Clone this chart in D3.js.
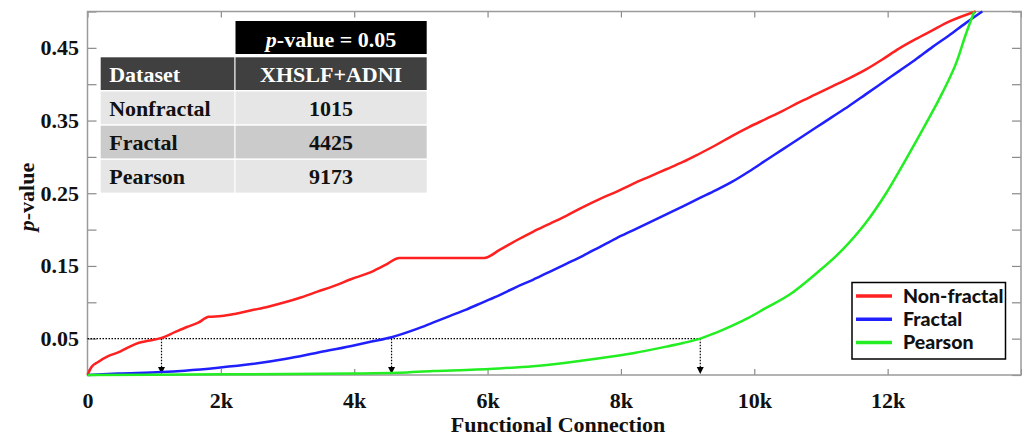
<!DOCTYPE html>
<html>
<head>
<meta charset="utf-8">
<script src="https://cdn.jsdelivr.net/npm/d3@7"></script>
<style>
  body { margin: 0; background: #fff; }
  svg { display: block; }
  .serif { font-family: "Liberation Serif", "Times New Roman", serif; font-weight: bold; }
</style>
</head>
<body>
<div id="chart"></div>
<script>
// curves: x = functional connection index, y = p-value
var nonFractalX = [0, 60, 160, 310, 460, 610, 760, 910, 1110, 1310, 1490, 1660, 1820, 2010, 2210, 2460, 2710, 2960, 3210, 3460, 3710, 3960, 4210, 4460, 4680, 5950, 6180, 6430, 6680, 6930, 7180, 7430, 7680, 7930, 8180, 8430, 8680, 8930, 9170, 9420, 9670, 9920, 10170, 10420, 10670, 10920, 11170, 11420, 11670, 11920, 12170, 12420, 12670, 12920, 13320];
var nonFractalY = [0, 0.011, 0.018, 0.026, 0.031, 0.038, 0.044, 0.047, 0.051, 0.059, 0.066, 0.072, 0.080, 0.081, 0.084, 0.089, 0.094, 0.100, 0.107, 0.115, 0.123, 0.132, 0.140, 0.151, 0.161, 0.161, 0.172, 0.185, 0.197, 0.208, 0.219, 0.231, 0.242, 0.252, 0.263, 0.273, 0.283, 0.293, 0.304, 0.316, 0.329, 0.341, 0.352, 0.363, 0.375, 0.386, 0.397, 0.408, 0.420, 0.434, 0.449, 0.462, 0.474, 0.486, 0.500];

var fractalX = [0, 460, 1110, 1460, 1960, 2460, 2960, 3460, 3960, 4260, 4560, 4930, 5180, 5430, 5680, 5930, 6180, 6430, 6680, 6930, 7180, 7430, 7680, 7930, 8180, 8430, 8680, 8930, 9170, 9420, 9670, 9920, 10170, 10420, 10670, 10920, 11170, 11420, 11670, 11920, 12170, 12420, 12670, 12920, 13170, 13420];
var fractalY = [0, 0.002, 0.004, 0.006, 0.010, 0.015, 0.022, 0.031, 0.040, 0.046, 0.052, 0.063, 0.072, 0.081, 0.090, 0.100, 0.110, 0.121, 0.131, 0.142, 0.153, 0.164, 0.176, 0.188, 0.199, 0.210, 0.221, 0.232, 0.243, 0.254, 0.266, 0.280, 0.295, 0.310, 0.325, 0.340, 0.355, 0.370, 0.386, 0.402, 0.418, 0.434, 0.451, 0.467, 0.484, 0.500];

var pearsonX = [0, 2000, 4000, 4680, 5180, 5680, 6180, 6680, 7180, 7680, 8180, 8680, 8930, 9190, 9420, 9670, 9920, 10170, 10520, 10920, 11320, 11670, 11970, 12270, 12570, 12820, 13040, 13170, 13300];
var pearsonY = [0, 0.001, 0.002, 0.003, 0.0055, 0.007, 0.009, 0.012, 0.017, 0.023, 0.030, 0.039, 0.044, 0.050, 0.058, 0.068, 0.079, 0.092, 0.110, 0.139, 0.172, 0.209, 0.249, 0.296, 0.345, 0.388, 0.432, 0.468, 0.500];

var seriesNames = ["Non-fractal", "Fractal", "Pearson"];
var seriesColors = ["#ff2020", "#2020ff", "#22ee22"];

// where each curve crosses p = 0.05 (arrows)
var cutoffP = 0.05;
var cutoffX = [1110, 4560, 9190];

// inset table
var tableHead = "p-value = 0.05";
var tableCols = ["Dataset", "XHSLF+ADNI"];
var tableRows = ["Nonfractal", "Fractal", "Pearson"];
var tableValues = [1015, 4425, 9173];

var xTicks = [0, 2000, 4000, 6000, 8000, 10000, 12000, 14000];
var xTickLabels = ["0", "2k", "4k", "6k", "8k", "10k", "12k", ""];
var yTicks = [0, 0.05, 0.1, 0.15, 0.2, 0.25, 0.3, 0.35, 0.4, 0.45, 0.5];
var yTickLabels = ["", "0.05", "", "0.15", "", "0.25", "", "0.35", "", "0.45", ""];

var W = 1022, H = 436;
var margin = {top: 11.5, left: 87.5, right: 1, bottom: 61};
var w = W - margin.left - margin.right,
    h = H - margin.top - margin.bottom;

var svg = d3.select("#chart").append("svg")
  .attr("width", W)
  .attr("height", H);

var g = svg.append("g")
  .attr("transform", "translate(" + margin.left + "," + margin.top + ")");

var x = d3.scaleLinear().domain([0, 14000]).range([0, w]);
var y = d3.scaleLinear().domain([0, 0.5]).range([h, 0]);

// axes, ticks pointing inward
var tickCol = "#8a8a8a";
var xAxis = d3.axisBottom(x).tickValues(xTicks)
  .tickFormat(function(d, i){ return xTickLabels[i]; })
  .tickSizeInner(-6).tickSizeOuter(0).tickPadding(17.5);
var xTop = d3.axisTop(x).tickValues(xTicks).tickFormat("")
  .tickSizeInner(-6).tickSizeOuter(0);
var yAxis = d3.axisLeft(y).tickValues(yTicks)
  .tickFormat(function(d, i){ return yTickLabels[i]; })
  .tickSizeInner(-9).tickSizeOuter(0).tickPadding(8.5);
var yRight = d3.axisRight(y).tickValues(yTicks).tickFormat("")
  .tickSizeInner(-9).tickSizeOuter(0);

function styleAxis(sel){
  sel.select(".domain").remove();
  sel.selectAll(".tick line").attr("stroke", tickCol).attr("stroke-width", 1.2);
  sel.selectAll(".tick text")
    .attr("class", "serif")
    .attr("fill", "#111")
    .style("font-size", "22px");
}

g.append("g").attr("transform", "translate(0," + h + ")").call(xAxis).call(styleAxis);
g.append("g").call(xTop).call(styleAxis);
g.append("g").call(yAxis).call(styleAxis);
g.append("g").attr("transform", "translate(" + w + ",0)").call(yRight).call(styleAxis);

// frame
g.append("rect")
  .attr("width", w).attr("height", h)
  .attr("fill", "none")
  .attr("stroke", "#9a9a9a")
  .attr("stroke-width", 1.5);

// dotted cutoff line and arrows
g.append("line")
  .attr("x1", x(0)).attr("x2", x(d3.max(cutoffX)))
  .attr("y1", y(cutoffP)).attr("y2", y(cutoffP))
  .attr("stroke", "#000").attr("stroke-width", 1.2)
  .attr("stroke-dasharray", "1.5,1.5");

var arrows = g.selectAll(".arrow").data(cutoffX).enter().append("g").attr("class", "arrow");
arrows.append("line")
  .attr("x1", function(d){ return x(d); }).attr("x2", function(d){ return x(d); })
  .attr("y1", y(cutoffP)).attr("y2", y(0) - 6)
  .attr("stroke", "#000").attr("stroke-width", 1.2)
  .attr("stroke-dasharray", "1.5,1.5");
arrows.append("path")
  .attr("d", function(d){
    var cx = x(d), by = y(0) - 1;
    return "M" + (cx - 3.5) + "," + (by - 7) + "L" + (cx + 3.5) + "," + (by - 7) + "L" + cx + "," + by + "Z";
  })
  .attr("fill", "#000");

// curves
var curves = [
  d3.zip(nonFractalX, nonFractalY),
  d3.zip(fractalX, fractalY),
  d3.zip(pearsonX, pearsonY)
];
var line = d3.line()
  .curve(d3.curveMonotoneX)
  .x(function(d){ return x(d[0]); })
  .y(function(d){ return y(d[1]); });

g.selectAll(".curve").data(curves).enter().append("path")
  .attr("class", "curve")
  .attr("d", line)
  .attr("fill", "none")
  .attr("stroke", function(d, i){ return seriesColors[i]; })
  .attr("stroke-width", 2.5)
  .attr("stroke-linejoin", "round");

// legend
var lg = svg.append("g").attr("transform", "translate(852,282.5)");
lg.append("rect")
  .attr("width", 153.5).attr("height", 76.5)
  .attr("fill", "#fff").attr("stroke", "#000").attr("stroke-width", 1.5);
var items = lg.selectAll(".item").data(seriesNames).enter().append("g")
  .attr("transform", function(d, i){ return "translate(0," + (13.5 + i * 23.3) + ")"; });
items.append("line")
  .attr("x1", 4).attr("x2", 40)
  .attr("stroke", function(d, i){ return seriesColors[i]; })
  .attr("stroke-width", 3.5);
items.append("text")
  .attr("x", 51).attr("y", 6.5)
  .style("font-family", "Lato, 'Open Sans', sans-serif")
  .style("font-weight", "900")
  .style("font-size", "19.5px")
  .attr("fill", "#111")
  .text(function(d){ return d; });

// axis titles
svg.append("text")
  .attr("class", "serif")
  .attr("x", 558).attr("y", 431.5)
  .attr("text-anchor", "middle")
  .style("font-size", "22px")
  .attr("fill", "#111")
  .text("Functional Connection");

var yt = svg.append("text")
  .attr("class", "serif")
  .attr("transform", "translate(34,197) rotate(-90)")
  .attr("text-anchor", "middle")
  .style("font-size", "22px")
  .attr("fill", "#111");
yt.append("tspan").style("font-style", "italic").text("p");
yt.append("tspan").text("-value");

// inset table
var tb = svg.append("g");
var col1 = 100.7, col2 = 235.5, tRight = 426.7;
var rowTop = 57.3, rowStep = 34.2, rowH = 32.7;

tb.append("rect")
  .attr("x", col2).attr("y", 21).attr("width", tRight - col2).attr("height", 33)
  .attr("fill", "#000");
var ht = tb.append("text")
  .attr("class", "serif")
  .attr("x", (col2 + tRight) / 2).attr("y", 46.5)
  .attr("text-anchor", "middle")
  .style("font-size", "22px")
  .attr("fill", "#fff");
ht.append("tspan").style("font-style", "italic").text(tableHead.slice(0, 1));
ht.append("tspan").text(tableHead.slice(1));

var rowData = [tableCols].concat(tableRows.map(function(r, i){ return [r, String(tableValues[i])]; }));
var rowFill = ["#404040", "#e6e6e6", "#cbcbcb", "#e6e6e6"];
var rows = tb.selectAll(".trow").data(rowData).enter().append("g")
  .attr("transform", function(d, i){ return "translate(0," + (rowTop + i * rowStep) + ")"; });
rows.append("rect")
  .attr("x", col1).attr("width", col2 - col1 - 1.2).attr("height", rowH)
  .attr("fill", function(d, i){ return rowFill[i]; });
rows.append("rect")
  .attr("x", col2).attr("width", tRight - col2).attr("height", rowH)
  .attr("fill", function(d, i){ return rowFill[i]; });
rows.append("text")
  .attr("class", "serif")
  .attr("x", col1 + 8.5).attr("y", rowH / 2 + 8)
  .style("font-size", "22px")
  .attr("fill", function(d, i){ return i === 0 ? "#fff" : "#111"; })
  .text(function(d){ return d[0]; });
rows.append("text")
  .attr("class", "serif")
  .attr("x", (col2 + tRight) / 2).attr("y", rowH / 2 + 8)
  .attr("text-anchor", "middle")
  .style("font-size", "22px")
  .attr("fill", function(d, i){ return i === 0 ? "#fff" : "#111"; })
  .text(function(d){ return d[1]; });
</script>
</body>
</html>
